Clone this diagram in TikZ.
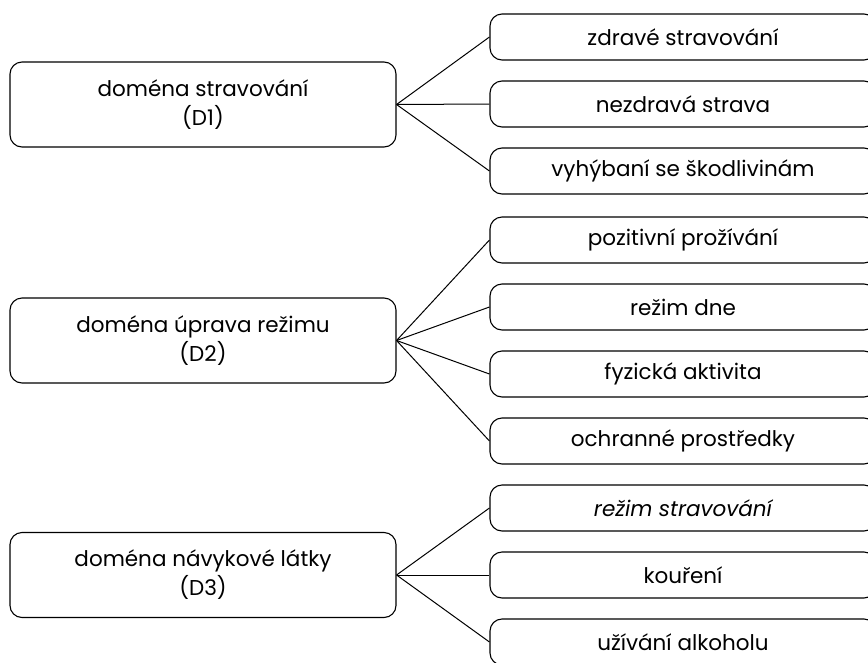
\documentclass[tikz,border=0pt]{standalone}
\usepackage{fontspec}
\setmainfont{Poppins}
\begin{document}
\begin{tikzpicture}[x=1pt,y=-1pt,
    domena/.style={draw,rounded corners=12pt,line width=1.1pt,minimum width=386pt,minimum height=85pt,align=center,font=\fontsize{21.5}{29}\selectfont},
    oblast/.style={draw,rounded corners=12pt,line width=1.1pt,minimum width=386pt,minimum height=46pt,font=\fontsize{21.5}{29}\selectfont},
    vetev/.style={line width=1pt}]
            \useasboundingbox (0,0) rectangle (868,662);
            % domeny
            \node[domena] (d1) at (203,104.5) {doména stravování\\(D1)};
            \node[domena] (d2) at (203,340.5) {doména úprava režimu\\(D2)};
            \node[domena] (d3) at (203,575) {doména návykové látky\\(D3)};
            % D1
            \node[oblast] (zdrave) at (683,37) {zdravé stravování};
            \node[oblast] (nezdrava) at (683,104) {nezdravá strava};
            \node[oblast] (vyhybani) at (683,171) {vyhýbaní se škodlivinám};
            % D2
            \node[oblast] (prozivani) at (683,240) {pozitivní prožívání};
            \node[oblast] (rezim) at (683,307) {režim dne};
            \node[oblast] (aktivita) at (683,374) {fyzická aktivita};
            \node[oblast] (ochrana) at (683,441) {ochranné prostředky};
            % D3
            \node[oblast] (stravovani) at (683,508) {\itshape režim stravování};
            \node[oblast] (koureni) at (683,575) {kouření};
            \node[oblast] (alkohol) at (683,642) {užívání alkoholu};
            \foreach \x in {zdrave,nezdrava,vyhybani}
                \draw[vetev] (d1.east) -- (\x.west);
            \foreach \x in {prozivani,rezim,aktivita,ochrana}
                \draw[vetev] (d2.east) -- (\x.west);
            \foreach \x in {stravovani,koureni,alkohol}
                \draw[vetev] (d3.east) -- (\x.west);
\end{tikzpicture}
\end{document}
